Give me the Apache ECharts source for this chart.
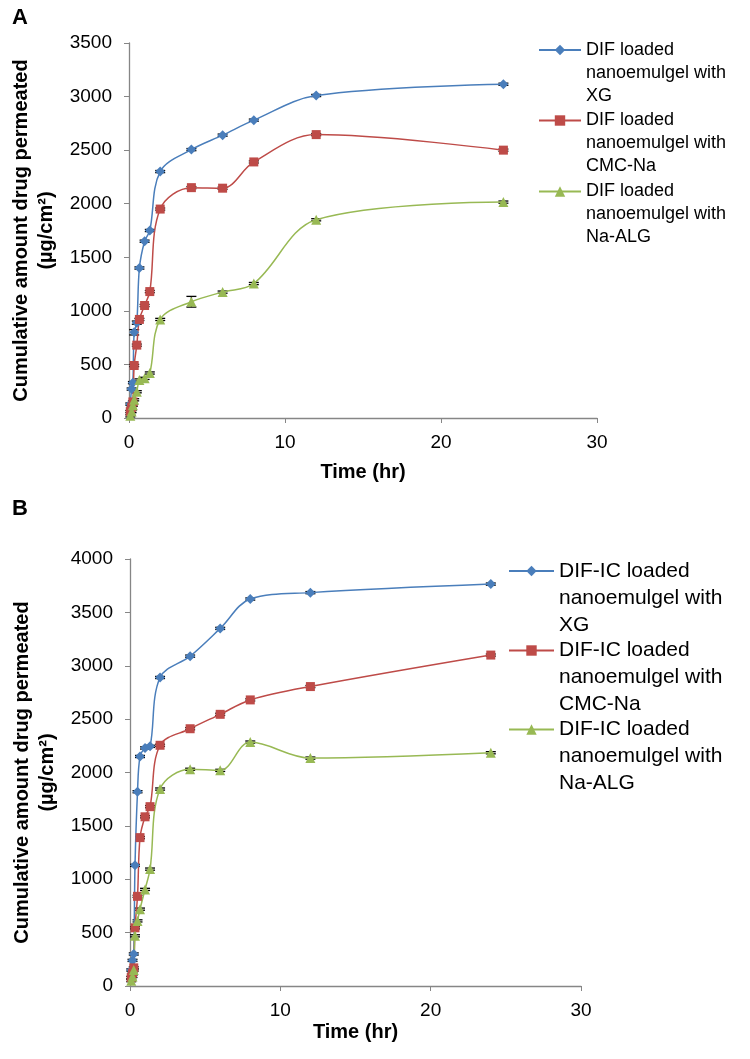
<!DOCTYPE html>
<html>
<head>
<meta charset="utf-8">
<script src="https://cdn.jsdelivr.net/npm/echarts@6/dist/echarts.min.js"></script>
<style>
html,body{margin:0;padding:0;background:#fff;}
#chart{width:750px;height:1059px;}
</style>
</head>
<body>
<div id="chart"></div>
<script>
// ---- data ----
const times = [0.083, 0.167, 0.25, 0.333, 0.5, 0.667, 1, 1.333, 2, 4, 6, 8, 12, 24];

const namesA = ['DIF loaded\nnanoemulgel with\nXG', 'DIF loaded\nnanoemulgel with\nCMC-Na', 'DIF loaded\nnanoemulgel with\nNa-ALG'];
const xgA  = [130, 270, 330, 800, 890, 1400, 1650, 1750, 2300, 2505, 2640, 2780, 3010, 3115];
const cmcA = [60, 100, 150, 490, 680, 920, 1050, 1180, 1950, 2150, 2145, 2390, 2645, 2500];
const algA = [20, 60, 120, 170, 245, 355, 370, 420, 920, 1085, 1175, 1255, 1850, 2015];
const xgAErr  = [10, 10, 10, 25, 15, 10, 10, 10, 10, 10, 10, 10, 10, 10];
const cmcAErr = [10, 10, 10, 10, 10, 10, 10, 10, 10, 10, 10, 10, 10, 10];
const algAErr = [10, 10, 10, 10, 10, 10, 10, 10, 10, 50, 10, 10, 10, 10];

const namesB = ['DIF-IC loaded\nnanoemulgel with\nXG', 'DIF-IC loaded\nnanoemulgel with\nCMC-Na', 'DIF-IC loaded\nnanoemulgel with\nNa-ALG'];
const xgB  = [150, 240, 300, 1130, 1820, 2150, 2230, 2245, 2890, 3090, 3350, 3625, 3685, 3765];
const cmcB = [80, 120, 170, 545, 840, 1390, 1585, 1680, 2255, 2410, 2545, 2680, 2805, 3100];
const algB = [50, 90, 150, 470, 610, 720, 905, 1095, 1845, 2030, 2020, 2285, 2135, 2185];
const xgBErr  = [10, 10, 10, 10, 10, 10, 10, 10, 10, 10, 10, 10, 10, 10];
const cmcBErr = [10, 10, 10, 10, 10, 10, 10, 10, 10, 10, 10, 10, 10, 10];
const algBErr = [10, 10, 10, 10, 10, 10, 10, 10, 10, 10, 10, 10, 10, 10];

const xTicks = [0, 10, 20, 30];
const yTicksA = [0, 500, 1000, 1500, 2000, 2500, 3000, 3500];
const yTicksB = [0, 500, 1000, 1500, 2000, 2500, 3000, 3500, 4000];

// ---- styles ----
const colors = ['#4A7EBB', '#BE4B48', '#98B954'];
const symbols = ['diamond', 'rect', 'triangle'];
const symSizes = [10, 9, 10];
const FONT = 'Liberation Sans, Arial, sans-serif';

function pairs(vals) { return times.map((t, i) => [t, vals[i]]); }
function errPairs(vals, errs) { return times.map((t, i) => [t, vals[i] - errs[i], vals[i] + errs[i]]); }

function errRender(params, api) {
  const x = api.value(0), lo = api.value(1), hi = api.value(2);
  const p1 = api.coord([x, lo]), p2 = api.coord([x, hi]);
  const w = 5;
  const st = { stroke: '#000', lineWidth: 1.3 };
  return {
    type: 'group', children: [
      { type: 'line', shape: { x1: p1[0], y1: p1[1], x2: p2[0], y2: p2[1] }, style: st },
      { type: 'line', shape: { x1: p1[0] - w, y1: p1[1], x2: p1[0] + w, y2: p1[1] }, style: st },
      { type: 'line', shape: { x1: p2[0] - w, y1: p2[1], x2: p2[0] + w, y2: p2[1] }, style: st }
    ]
  };
}

function lineSeries(name, vals, k, idx) {
  return {
    name: name, type: 'line', xAxisIndex: idx, yAxisIndex: idx,
    data: pairs(vals), smooth: 0.35,
    symbol: symbols[k], symbolSize: symSizes[k], showSymbol: true,
    lineStyle: { color: colors[k], width: 1.5 },
    itemStyle: { color: colors[k], borderWidth: 0 },
    z: 3, animation: false
  };
}
function errSeries(vals, errs, idx) {
  return {
    type: 'custom', xAxisIndex: idx, yAxisIndex: idx,
    data: errPairs(vals, errs), renderItem: errRender,
    encode: { x: 0, y: [1, 2] }, z: 2, animation: false, silent: true
  };
}

function xAxis(idx) {
  return {
    gridIndex: idx, type: 'value', min: xTicks[0], max: xTicks[xTicks.length - 1], interval: 10,
    axisLine: { lineStyle: { color: '#868686', width: 1.3 } },
    axisTick: { show: true, length: 5, lineStyle: { color: '#868686' } },
    splitLine: { show: false },
    axisLabel: { color: '#000', fontSize: 19, fontFamily: FONT, margin: 15, formatter: v => String(v) },
    name: 'Time (hr)', nameLocation: 'middle', nameGap: idx === 0 ? 44 : 36,
    nameTextStyle: { color: '#000', fontSize: 20, fontWeight: 'bold', fontFamily: FONT }
  };
}
function yAxis(idx, ticks) {
  return {
    gridIndex: idx, type: 'value', min: 0, max: ticks[ticks.length - 1], interval: 500,
    axisLine: { show: true, lineStyle: { color: '#868686', width: 1.3 } },
    axisTick: { show: true, length: 5, lineStyle: { color: '#868686' } },
    splitLine: { show: false },
    axisLabel: { color: '#000', fontSize: 19, fontFamily: FONT, margin: 17, formatter: v => String(v) },
    name: 'Cumulative amount drug permeated\n(\u00b5g/cm\u00b2)', nameLocation: 'middle', nameRotate: 90,
    nameGap: 64,
    nameTextStyle: { color: '#000', fontSize: 20, fontWeight: 'bold', fontFamily: FONT, lineHeight: 25 }
  };
}

function legendItem(name, left, top, w, fs, lh) {
  return {
    data: [name], left: left, top: top, padding: 0, orient: 'vertical',
    itemWidth: w, itemHeight: 13, itemGap: 0, selectedMode: false,
    formatter: n => '\n\n' + n,
    textStyle: { color: '#000', fontSize: fs, lineHeight: lh, fontFamily: FONT }
  };
}

const seriesA = [xgA, cmcA, algA], errsA = [xgAErr, cmcAErr, algAErr];
const seriesB = [xgB, cmcB, algB], errsB = [xgBErr, cmcBErr, algBErr];
const series = [];
for (let k = 0; k < 3; k++) {
  series.push(errSeries(seriesA[k], errsA[k], 0));
  series.push(lineSeries(namesA[k], seriesA[k], k, 0));
  series.push(errSeries(seriesB[k], errsB[k], 1));
  series.push(lineSeries(namesB[k], seriesB[k], k, 1));
}

const legendTopsA = [50, 120.5, 191.5];
const legendTopsB = [571, 650.5, 729.5];
const legends = [];
for (let k = 0; k < 3; k++) {
  legends.push(legendItem(namesA[k], 538, legendTopsA[k] - 5 * 23 / 2, 42, 18, 23));
  legends.push(legendItem(namesB[k], 508, legendTopsB[k] - 5 * 27 / 2, 45, 21, 27));
}

const chart = echarts.init(document.getElementById('chart'), null, { renderer: 'canvas' });
chart.setOption({
  backgroundColor: '#fff',
  animation: false,
  textStyle: { fontFamily: FONT },
  title: [
    { text: 'A', left: 7, top: 2, textStyle: { fontSize: 22, fontWeight: 'bold', color: '#000', fontFamily: FONT } },
    { text: 'B', left: 7, top: 493, textStyle: { fontSize: 22, fontWeight: 'bold', color: '#000', fontFamily: FONT } }
  ],
  grid: [
    { left: 129, top: 43, width: 468, height: 375 },
    { left: 130, top: 559, width: 451, height: 427 }
  ],
  xAxis: [xAxis(0), xAxis(1)],
  yAxis: [yAxis(0, yTicksA), yAxis(1, yTicksB)],
  legend: legends,
  series: series
});
</script>
</body>
</html>
